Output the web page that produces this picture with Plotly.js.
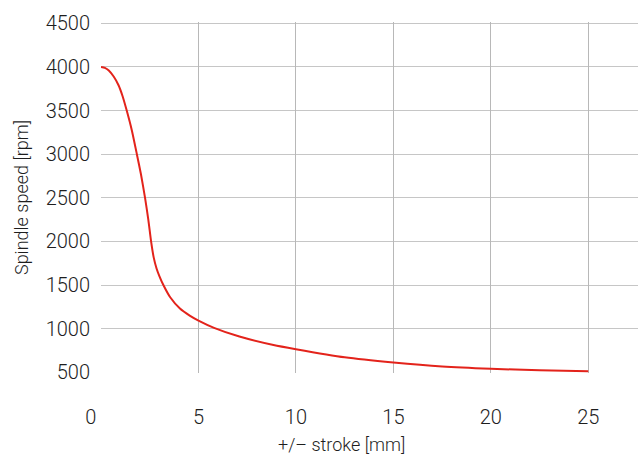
<!DOCTYPE html>
<html>
<head>
<meta charset="utf-8">
<script src="https://cdn.plot.ly/plotly-3.0.1.min.js"></script>
<style>html,body{margin:0;padding:0;background:#fff;}#chart{width:638px;height:457px;}</style>
</head>
<body>
<div id="chart"></div>
<script>
// Data
const strokeMm = [0, 0.2, 0.4, 0.65, 0.9, 1.1, 1.32, 1.58, 1.84, 2.05, 2.26, 2.43, 2.57, 2.7, 2.85, 3.0, 3.2, 3.55, 4.05, 4.55, 5, 5.8, 7.1, 8.85, 10, 12.5, 15, 17.5, 20, 22.5, 25];
const speedRpm = [4000, 3990, 3960, 3890, 3790, 3670, 3500, 3275, 3000, 2770, 2500, 2245, 2000, 1820, 1690, 1600, 1500, 1360, 1230, 1150, 1093, 1010, 910, 813, 765, 672, 612, 566, 540, 524, 513];
const xTickVals = [0, 5, 10, 15, 20, 25];
const xTickText = ['0\u2003', '5', '10', '15', '20', '25'];
const xGridVals = [5, 10, 15, 20, 25];
const yTickVals = [500, 1000, 1500, 2000, 2500, 3000, 3500, 4000, 4500];
const xTitle = '+/\u2013 stroke [mm]';
const yTitle = 'Spindle speed [rpm]';

const fontFam = 'Roboto, "Noto Sans", sans-serif';
const textColor = '#1e1e1e';

const traces = [
  {
    x: strokeMm, y: speedRpm, type: 'scatter', mode: 'lines',
    line: {color: '#e3231b', width: 2, shape: 'spline', smoothing: 0.6},
    hoverinfo: 'skip', showlegend: false
  },
  {
    x: [], y: [], xaxis: 'x2', yaxis: 'y', type: 'scatter', mode: 'lines',
    showlegend: false, hoverinfo: 'skip'
  }
];

const layout = {
  width: 638, height: 457,
  margin: {l: 101, r: 0, t: 22, b: 84, pad: 0},
  paper_bgcolor: '#ffffff', plot_bgcolor: '#ffffff',
  showlegend: false,
  font: {family: fontFam, color: textColor, size: 18, weight: 300},
  xaxis: {
    range: [0, 27.55],
    tickmode: 'array', tickvals: xTickVals, ticktext: xTickText,
    showgrid: false, zeroline: false, showline: false, ticks: '',
    ticklabelstandoff: 30,
    tickfont: {family: fontFam, size: 20, color: textColor, weight: 300},
    fixedrange: true
  },
  xaxis2: {
    overlaying: 'x', matches: 'x', anchor: 'y',
    range: [0, 27.55],
    tickmode: 'array', tickvals: xGridVals,
    showticklabels: false, showgrid: true, gridcolor: '#b8b8b8', gridwidth: 1,
    zeroline: false, showline: false, ticks: ''
  },
  yaxis: {
    range: [492, 4515],
    tickmode: 'array', tickvals: yTickVals,
    showgrid: true, gridcolor: '#c6c6c6', gridwidth: 1,
    zeroline: false, showline: false, ticks: '',
    ticklabelstandoff: 10,
    tickfont: {family: fontFam, size: 20, color: textColor, weight: 300},
    title: {text: yTitle, standoff: 12, font: {family: fontFam, size: 18, color: textColor, weight: 300}},
    fixedrange: true
  },
  annotations: [
    {
      text: xTitle, xref: 'paper', yref: 'paper',
      x: 0.447, y: -0.205, xanchor: 'center', yanchor: 'middle',
      showarrow: false,
      font: {family: fontFam, size: 18, color: textColor, weight: 300}
    }
  ]
};

Plotly.newPlot('chart', traces, layout, {displayModeBar: false, staticPlot: true});
</script>
</body>
</html>
